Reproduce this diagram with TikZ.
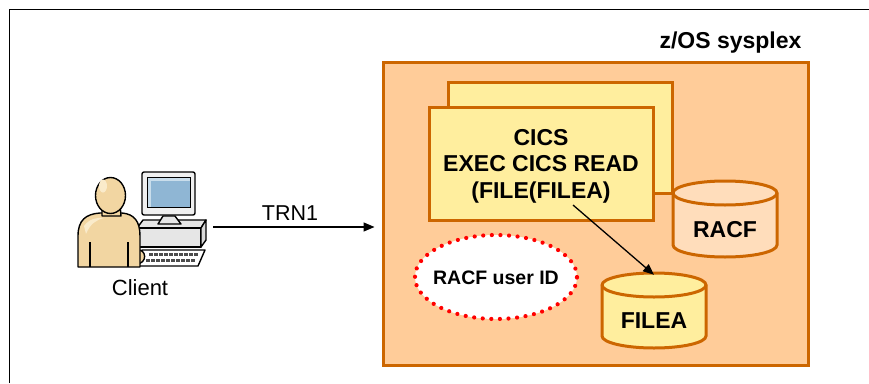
\documentclass[tikz,border=0pt]{standalone}
\usepackage{fontspec}
\setmainfont{Liberation Sans}
\usetikzlibrary{arrows.meta,shapes.geometric}
\definecolor{sysfill}{HTML}{FFCC99}
\definecolor{sysedge}{HTML}{CC6600}
\definecolor{cicsfill}{HTML}{FFEE9E}
\definecolor{racffill}{HTML}{FFDDBB}
\definecolor{skin}{HTML}{F2D6A2}
\definecolor{skinlite}{HTML}{FAEBCB}
\definecolor{screenblue}{HTML}{8FB6D4}
\definecolor{screenlite}{HTML}{C9DDEB}
\definecolor{boxgray}{HTML}{E6E6E6}
\tikzset{
  orangebox/.style={draw=sysedge, line width=3pt},
  lbl/.style={inner sep=0pt, anchor=base, text=black},
  bigbold/.style={lbl, font=\fontsize{23}{26.5}\selectfont\bfseries},
  plain/.style={lbl, font=\fontsize{22}{26}\selectfont},
  flow/.style={line width=1.3pt, -{Triangle[length=11pt,width=9pt]}},
  iconline/.style={draw=black, line width=1.4pt, line join=round}
}
% y grows downwards here, so an arc through 90 degrees bulges down
\newcommand{\cyl}[5]{% left x, right x, top centre y, bottom centre y, fill
  \pgfmathsetmacro{\rx}{(#2-#1)/2}
  \filldraw[orangebox, fill=#5] (#1,#3) -- (#1,#4) arc[start angle=180, end angle=0, x radius=\rx, y radius=12] -- (#2,#3) arc[start angle=0, end angle=-180, x radius=\rx, y radius=12] -- cycle;
  \draw[orangebox] (#1,#3) arc[start angle=180, end angle=0, x radius=\rx, y radius=12];
}
\begin{document}
\begin{tikzpicture}[x=1pt,y=-1pt]
\useasboundingbox (0,0) rectangle (869,383);
\fill[white] (0,0) rectangle (869,383);

% page frame
\draw[line width=1.5pt] (9.5,383) -- (9.5,9.5) -- (869,9.5);

% sysplex
\node[orangebox, fill=sysfill, minimum width=425pt, minimum height=303pt, inner sep=0pt] (sysplex) at (595.5,213.5) {};
\node[bigbold] (systitle) at (730.5,48) {z/OS sysplex};

% CICS regions
\node[orangebox, fill=cicsfill, minimum width=224pt, minimum height=111pt, inner sep=0pt] (cicsback) at (560,137.5) {};
\node[orangebox, fill=cicsfill, minimum width=224pt, minimum height=113pt, inner sep=0pt] (cicsfront) at (541,163.5) {};
\node[bigbold] (cics1) at (541,145) {CICS};
\node[bigbold] (cics2) at (541,171.5) {EXEC CICS READ};
\node[bigbold] (cics3) at (541,198) {(FILE(FILEA)};

% RACF database
\cyl{673}{777}{193}{245}{racffill}
\node[inner sep=0pt, minimum width=104pt, minimum height=76pt] (racfdb) at (725,219) {};
\node[bigbold] (racflbl) at (725,237) {RACF};

% FILEA data set
\cyl{602}{706}{285}{336}{cicsfill}
\node[inner sep=0pt, minimum width=104pt, minimum height=75pt] (fileadb) at (654,310.5) {};
\node[bigbold] (filealbl) at (654,328) {FILEA};

% RACF user ID
\node[ellipse, fill=white, draw=red, line width=4.2pt, line cap=round, dash pattern=on 0pt off 8.6pt, minimum width=162pt, minimum height=84pt, inner sep=0pt] (userid) at (496,277) {};
\node[lbl, font=\fontsize{19.5}{22}\selectfont\bfseries] (useridlbl) at (496,284) {RACF user ID};

% read request
\coordinate (readsrc) at (573,205);
\draw[flow] (readsrc) -- ([yshift=-2pt]fileadb.north);

% client workstation: computer
\filldraw[iconline, fill=boxgray] (137,228) -- (143,220) -- (206,220) -- (201,228) -- cycle;
\filldraw[iconline, fill=boxgray] (137,228) rectangle (201,247);
\filldraw[iconline, fill=white!85!black] (201,228) -- (206,220) -- (206,240) -- (201,247) -- cycle;
\filldraw[iconline, fill=boxgray] (158,224) -- (163,216) -- (175,216) -- (181,224) -- cycle;
\filldraw[iconline, fill=white!94!black, rounded corners=2pt] (142,172) rectangle (195,215);
\fill[screenblue] (147,177) rectangle (190,207);
\fill[screenlite] (147,177) rectangle (190,181);
\fill[screenlite] (147,177) rectangle (151,207);
\draw[line width=1pt] (147,177) rectangle (190,207);
\filldraw[iconline, fill=white] (142,250) -- (205,250) -- (198,266) -- (137,266) -- cycle;
\foreach \k in {0,...,9} {
  \fill[black!70] (149+5*\k,253) rectangle ++(3.5,3);
  \fill[black!70] (146+5*\k,258.5) rectangle ++(3.5,3);
}
% client workstation: user
\filldraw[iconline, fill=skin] (136,250) .. controls (147,248) and (148,264) .. (136,264) -- cycle;
\filldraw[iconline, fill=skin] (78,267) -- (78,236) .. controls (78,220) and (86,214) .. (100,213) -- (122,213) .. controls (134,214) and (140,221) .. (140,236) -- (140,267) -- cycle;
\draw[line width=1.2pt] (90,242) -- (90,267);
\draw[line width=1.2pt] (128,242) -- (128,267);
\fill[skinlite] (84,226) .. controls (89,219) and (97,217) .. (104,218) .. controls (96,220) and (90,224) .. (86,234) -- cycle;
\filldraw[iconline, fill=skin] (102,204) -- (102,216) -- (121,216) -- (120,204) -- cycle;
\filldraw[iconline, fill=skin] (110.5,195.5) ellipse[x radius=15, y radius=18];
\fill[skinlite] (103,186) ellipse[x radius=4, y radius=6.5];
\node[inner sep=0pt, minimum width=130pt, minimum height=98pt] (client) at (142,220) {};
\node[plain] (clientlbl) at (140,295) {Client};

% transaction flow
\coordinate (trnsrc) at (213,227);
\draw[flow] (trnsrc) -- ([xshift=-7pt]sysplex.west |- trnsrc);
\node[plain, font=\fontsize{21.5}{26}\selectfont] (trnlbl) at (290,220) {TRN1};
\end{tikzpicture}
\end{document}
